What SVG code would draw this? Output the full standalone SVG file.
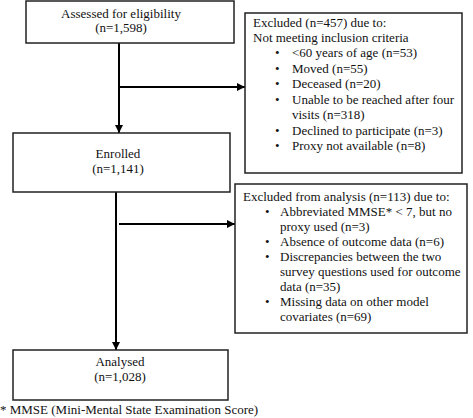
<svg xmlns="http://www.w3.org/2000/svg" width="473" height="418" viewBox="0 0 473 418">
<defs>
<style>
text{font-family:"Liberation Serif","Times New Roman",serif;font-size:13px;fill:#111}
.c{text-anchor:middle}
.box{fill:#fff;stroke:#222;stroke-width:1.5}
.ln{fill:none;stroke:#000;stroke-width:2}
</style>
<marker id="ah" viewBox="0 0 10 10" refX="10" refY="5" markerWidth="4" markerHeight="4" orient="auto" markerUnits="strokeWidth">
<path d="M0,0 L10,5 L0,10 z" fill="#000"/>
</marker>
</defs>
<rect width="473" height="418" fill="#fff"/>
<g id="connectors">
<line class="ln" x1="119" y1="43" x2="119" y2="133" marker-end="url(#ah)"/>
<line class="ln" x1="119" y1="87" x2="245" y2="87" marker-end="url(#ah)"/>
<line class="ln" x1="116" y1="192" x2="116" y2="350" marker-end="url(#ah)"/>
<line class="ln" x1="119" y1="224" x2="235" y2="224" marker-end="url(#ah)"/>
</g>
<g id="assessed">
<rect class="box" x="26" y="1" width="208" height="42"/>
<text class="c" x="121" y="17.5">Assessed for eligibility</text>
<text class="c" x="121" y="31.5">(n=1,598)</text>
</g>
<g id="excluded1">
<rect class="box" x="245" y="13" width="217" height="160"/>
<text x="253" y="26.5">Excluded (n=457) due to:</text>
<text x="253" y="41.5">Not meeting inclusion criteria</text>
<text x="275" y="57">•</text><text x="292" y="57">&lt;60 years of age (n=53)</text>
<text x="275" y="72.5">•</text><text x="292" y="72.5">Moved (n=55)</text>
<text x="275" y="88">•</text><text x="292" y="88">Deceased (n=20)</text>
<text x="275" y="103.5">•</text><text x="292" y="103.5">Unable to be reached after four</text>
<text x="292" y="119">visits (n=318)</text>
<text x="275" y="134.5">•</text><text x="292" y="134.5">Declined to participate (n=3)</text>
<text x="275" y="150">•</text><text x="292" y="150">Proxy not available (n=8)</text>
</g>
<g id="enrolled">
<rect class="box" x="13" y="133" width="217" height="59"/>
<text class="c" x="118" y="157.5">Enrolled</text>
<text class="c" x="118" y="172.5">(n=1,141)</text>
</g>
<g id="excluded2">
<rect class="box" x="235" y="184" width="232" height="149"/>
<text x="243" y="200.5">Excluded from analysis (n=113) due to:</text>
<text x="265" y="215.5">•</text><text x="280" y="215.5">Abbreviated MMSE* &lt; 7, but no</text>
<text x="280" y="230.5">proxy used (n=3)</text>
<text x="265" y="245.5">•</text><text x="280" y="245.5">Absence of outcome data (n=6)</text>
<text x="265" y="260.5">•</text><text x="280" y="260.5">Discrepancies between the two</text>
<text x="280" y="275.5">survey questions used for outcome</text>
<text x="280" y="290.5">data (n=35)</text>
<text x="265" y="306">•</text><text x="280" y="306">Missing data on other model</text>
<text x="280" y="321">covariates (n=69)</text>
</g>
<g id="analysed">
<rect class="box" x="13" y="350" width="215" height="50"/>
<text class="c" x="120" y="365.5">Analysed</text>
<text class="c" x="120" y="380.5">(n=1,028)</text>
</g>
<text x="0" y="414">* MMSE (Mini-Mental State Examination Score)</text>
</svg>
